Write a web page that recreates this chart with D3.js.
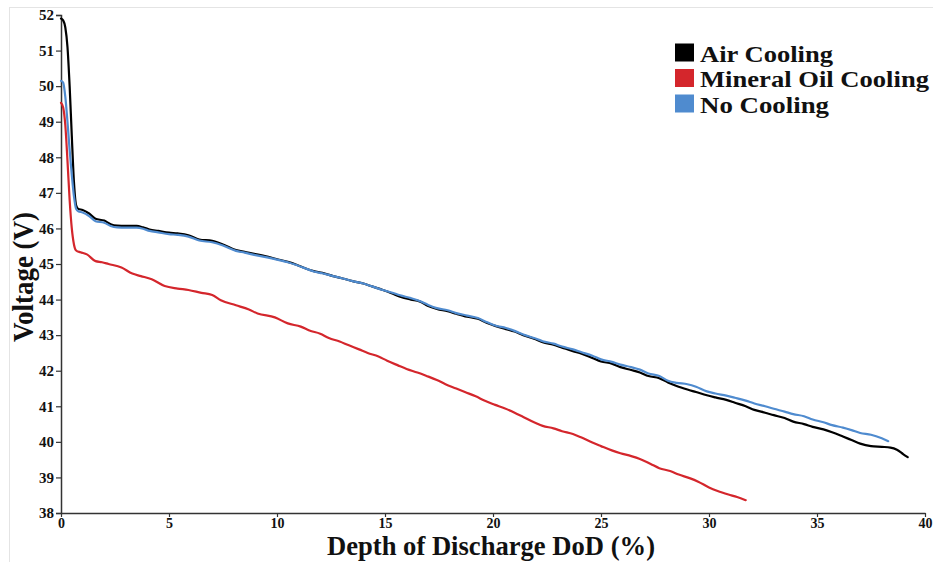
<!DOCTYPE html>
<html>
<head>
<meta charset="utf-8">
<script src="https://cdn.jsdelivr.net/npm/d3@7"></script>
<style>
  html, body { margin: 0; padding: 0; background: #fff; }
  svg { display: block; }
  .tick text { font-family: "Liberation Serif", "Times New Roman", serif; font-weight: bold; font-size: 15px; fill: #111; }
</style>
</head>
<body>
<svg id="chart" width="933" height="562"></svg>
<script>
// ---------- Data ----------
const seriesNames = ["Air Cooling", "Mineral Oil Cooling", "No Cooling"];
const seriesColors = ["#000000", "#d4262c", "#4f8bcf"];

const xTicks = [0, 5, 10, 15, 20, 25, 30, 35, 40];
const yTicks = [38, 39, 40, 41, 42, 43, 44, 45, 46, 47, 48, 49, 50, 51, 52];

// Air Cooling: [DoD %, Voltage V]
const airCooling = [
  [0, 51.9], [0.1, 51.85], [0.2, 51.65], [0.3, 51.1], [0.4, 50.0], [0.5, 48.6], [0.6, 47.3],
  [0.7, 46.65], [0.8, 46.55], [1.0, 46.52], [1.3, 46.42], [1.6, 46.27], [2.0, 46.22],
  [2.3, 46.12], [2.6, 46.08], [3.0, 46.07], [3.5, 46.07], [3.8, 46.03], [4.1, 45.97],
  [4.5, 45.93], [5.0, 45.88], [5.4, 45.86], [5.9, 45.81], [6.4, 45.69], [7.0, 45.65],
  [7.5, 45.55], [8.1, 45.39], [8.5, 45.34], [9.0, 45.28], [9.6, 45.2], [10.1, 45.12],
  [10.5, 45.06], [10.9, 44.98], [11.3, 44.88], [11.7, 44.8], [12.1, 44.75], [12.6, 44.66],
  [13.0, 44.6], [13.5, 44.52], [14.0, 44.45], [14.4, 44.37], [14.9, 44.27], [15.3, 44.18],
  [15.7, 44.08], [16.2, 44.0], [16.6, 43.95], [17.0, 43.82], [17.4, 43.74], [17.9, 43.67],
  [18.3, 43.6], [18.8, 43.52], [19.3, 43.46], [19.7, 43.35], [20.1, 43.26], [20.6, 43.17],
  [21.0, 43.1], [21.4, 43.0], [21.9, 42.9], [22.3, 42.8], [22.8, 42.73], [23.2, 42.65],
  [23.7, 42.55], [24.1, 42.48], [24.6, 42.36], [25.0, 42.26], [25.5, 42.2], [25.9, 42.1],
  [26.4, 42.02], [26.8, 41.95], [27.2, 41.85], [27.7, 41.79], [28.1, 41.67], [28.5, 41.57],
  [29.0, 41.47], [29.4, 41.4], [29.9, 41.31], [30.3, 41.25], [30.8, 41.18], [31.2, 41.1],
  [31.7, 41.0], [32.1, 40.9], [32.6, 40.82], [33.0, 40.75], [33.5, 40.67], [33.9, 40.57],
  [34.4, 40.5], [34.8, 40.42], [35.3, 40.35], [35.7, 40.27], [36.2, 40.15], [36.6, 40.05],
  [37.0, 39.95], [37.5, 39.88], [38.0, 39.86], [38.4, 39.84], [38.7, 39.78], [39.0, 39.65],
  [39.2, 39.57]
];

// Mineral Oil Cooling
const mineralOilCooling = [
  [0, 49.53], [0.1, 49.4], [0.2, 48.9], [0.3, 47.9], [0.4, 46.8], [0.5, 46.0], [0.6, 45.55],
  [0.7, 45.38], [0.9, 45.33], [1.2, 45.27], [1.6, 45.08], [1.9, 45.05], [2.2, 45.0],
  [2.8, 44.9], [3.3, 44.73], [3.7, 44.66], [4.2, 44.57], [4.8, 44.38], [5.4, 44.31],
  [5.9, 44.27], [6.5, 44.19], [7.0, 44.13], [7.4, 43.98], [8.1, 43.84], [8.7, 43.72],
  [9.1, 43.61], [9.9, 43.5], [10.5, 43.33], [11.1, 43.24], [11.5, 43.13], [12.0, 43.04],
  [12.4, 42.92], [12.9, 42.82], [13.3, 42.72], [13.8, 42.6], [14.2, 42.5], [14.7, 42.4],
  [15.1, 42.28], [15.6, 42.15], [16.0, 42.05], [16.5, 41.95], [16.9, 41.86], [17.4, 41.74],
  [17.8, 41.62], [18.3, 41.5], [18.7, 41.4], [19.2, 41.28], [19.6, 41.16], [20.1, 41.04],
  [20.5, 40.95], [21.0, 40.82], [21.4, 40.7], [21.9, 40.55], [22.3, 40.45], [22.8, 40.38],
  [23.2, 40.3], [23.7, 40.22], [24.1, 40.12], [24.6, 39.98], [25.0, 39.88], [25.5, 39.76],
  [25.9, 39.68], [26.4, 39.6], [26.8, 39.52], [27.3, 39.38], [27.7, 39.26], [28.2, 39.18],
  [28.6, 39.08], [29.1, 38.98], [29.5, 38.88], [30.0, 38.72], [30.4, 38.62], [30.9, 38.52],
  [31.3, 38.45], [31.7, 38.36]
];

// No Cooling
const noCooling = [
  [0, 50.15], [0.1, 50.1], [0.2, 49.7], [0.3, 49.0], [0.4, 48.2], [0.5, 47.5], [0.6, 46.9],
  [0.7, 46.55], [0.8, 46.48], [1.0, 46.45], [1.3, 46.35], [1.6, 46.2], [2.0, 46.16],
  [2.3, 46.07], [2.6, 46.03], [3.0, 46.02], [3.5, 46.02], [3.8, 45.99], [4.1, 45.93],
  [4.5, 45.89], [5.0, 45.84], [5.4, 45.82], [5.9, 45.77], [6.4, 45.66], [7.0, 45.61],
  [7.5, 45.52], [8.1, 45.37], [8.5, 45.32], [9.0, 45.25], [9.6, 45.18], [10.1, 45.11],
  [10.5, 45.05], [10.9, 44.97], [11.3, 44.88], [11.7, 44.79], [12.1, 44.74], [12.6, 44.66],
  [13.0, 44.6], [13.5, 44.52], [14.0, 44.45], [14.4, 44.37], [14.9, 44.27], [15.3, 44.2],
  [15.7, 44.12], [16.2, 44.04], [16.6, 43.96], [17.0, 43.85], [17.4, 43.76], [17.9, 43.7],
  [18.3, 43.62], [18.8, 43.55], [19.3, 43.48], [19.7, 43.37], [20.1, 43.27], [20.6, 43.2],
  [21.0, 43.12], [21.4, 43.02], [21.9, 42.92], [22.3, 42.83], [22.8, 42.76], [23.2, 42.68],
  [23.7, 42.6], [24.1, 42.52], [24.6, 42.42], [25.0, 42.32], [25.5, 42.25], [25.9, 42.17],
  [26.4, 42.1], [26.8, 42.03], [27.2, 41.92], [27.7, 41.85], [28.1, 41.72], [28.5, 41.66],
  [29.0, 41.62], [29.4, 41.55], [29.9, 41.42], [30.3, 41.36], [30.8, 41.3], [31.2, 41.24],
  [31.7, 41.16], [32.1, 41.08], [32.6, 41.0], [33.0, 40.93], [33.5, 40.85], [33.9, 40.78],
  [34.4, 40.72], [34.8, 40.63], [35.3, 40.55], [35.7, 40.47], [36.2, 40.4], [36.6, 40.33],
  [37.0, 40.25], [37.5, 40.2], [38.0, 40.1], [38.3, 40.02]
];

const seriesData = [airCooling, mineralOilCooling, noCooling];

// ---------- Chart ----------
const svg = d3.select("#chart");
const W = 933, H = 562;

// faint outer frame
svg.append("line").attr("x1", 9).attr("x2", W).attr("y1", 7.5).attr("y2", 7.5)
  .attr("stroke", "#e4e4e4").attr("stroke-width", 1);
svg.append("line").attr("x1", 9.5).attr("x2", 9.5).attr("y1", 7).attr("y2", H)
  .attr("stroke", "#e4e4e4").attr("stroke-width", 1);

const x = d3.scaleLinear().domain([0, 40]).range([61, 925]);
const y = d3.scaleLinear().domain([38, 52]).range([513, 15]);

// Y axis
const yAxis = svg.append("g").attr("transform", "translate(61,0)")
  .call(d3.axisLeft(y).tickValues(yTicks).tickSize(5).tickPadding(2).tickFormat(d3.format("d")));
yAxis.select(".domain").attr("stroke", "#333").attr("stroke-width", 1.5);
yAxis.selectAll(".tick line").attr("stroke", "#333").attr("stroke-width", 1.2);

// X axis
const xAxis = svg.append("g").attr("transform", "translate(0,513)")
  .call(d3.axisBottom(x).tickValues(xTicks).tickSizeInner(4).tickSizeOuter(0).tickPadding(1).tickFormat(d3.format("d")));
xAxis.select(".domain").attr("stroke", "#333").attr("stroke-width", 1.5);
xAxis.selectAll(".tick line").attr("stroke", "#333").attr("stroke-width", 1.2);
xAxis.selectAll(".tick text").attr("dy", "0.72em").style("font-size", "14px");

// Lines
const line = d3.line().x(d => x(d[0])).y(d => y(d[1])).curve(d3.curveMonotoneX);
const drawOrder = [0, 2, 1];
drawOrder.forEach(i => {
  svg.append("path")
    .datum(seriesData[i])
    .attr("fill", "none")
    .attr("stroke", seriesColors[i])
    .attr("stroke-width", 2.2)
    .attr("stroke-linejoin", "round")
    .attr("stroke-linecap", "round")
    .attr("d", line);
});

// Axis titles
svg.append("text")
  .attr("x", 327).attr("y", 555)
  .attr("textLength", 328).attr("lengthAdjust", "spacingAndGlyphs")
  .style("font-family", "'Liberation Serif', 'Times New Roman', serif")
  .style("font-weight", "bold").style("font-size", "27px").style("fill", "#111")
  .text("Depth of Discharge DoD (%)");

svg.append("text")
  .attr("transform", "translate(33,342) rotate(-90)")
  .attr("x", 0).attr("y", 0)
  .attr("textLength", 130).attr("lengthAdjust", "spacingAndGlyphs")
  .style("font-family", "'Liberation Serif', 'Times New Roman', serif")
  .style("font-weight", "bold").style("font-size", "29px").style("fill", "#111")
  .text("Voltage (V)");

// Legend
const legendLengths = [133, 229, 129];
const legend = svg.append("g");
seriesNames.forEach((name, i) => {
  const by = 61.5 + i * 25.5;
  legend.append("rect")
    .attr("x", 675).attr("y", by - 18).attr("width", 19).attr("height", 18)
    .attr("fill", seriesColors[i]);
  legend.append("text")
    .attr("x", 700).attr("y", by)
    .attr("textLength", legendLengths[i]).attr("lengthAdjust", "spacingAndGlyphs")
    .style("font-family", "'Liberation Serif', 'Times New Roman', serif")
    .style("font-weight", "bold").style("font-size", "23px").style("fill", "#111")
    .text(name);
});
</script>
</body>
</html>
